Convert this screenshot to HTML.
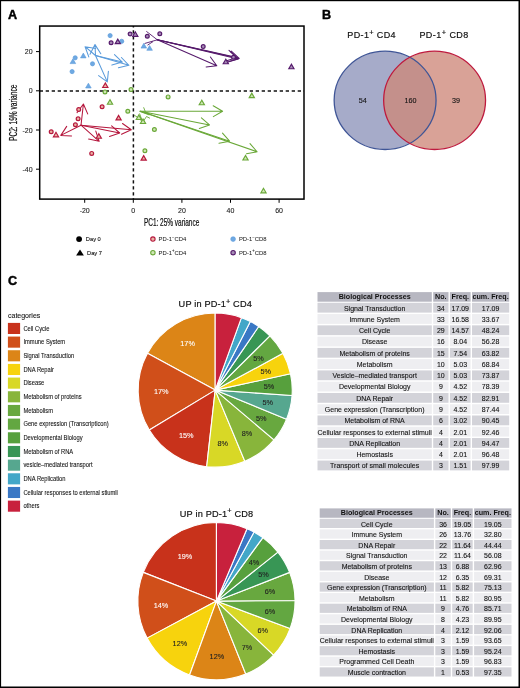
<!DOCTYPE html>
<html><head><meta charset="utf-8"><title>Figure</title>
<style>html,body{margin:0;padding:0;background:#fff;}svg{display:block;will-change:transform;}text{font-family:"Liberation Sans", sans-serif;}</style>
</head><body>
<svg width="520" height="688" viewBox="0 0 520 688" font-family='"Liberation Sans", sans-serif'>
<rect width="520" height="688" fill="#fff"/>
<g>
<line x1="39.7" y1="90.95" x2="304.0" y2="90.95" stroke="#111" stroke-width="1.5" stroke-dasharray="3.3 2.7"/>
<line x1="133.4" y1="26.05" x2="133.4" y2="199.1" stroke="#111" stroke-width="1.5" stroke-dasharray="3.3 2.7" stroke-dashoffset="1.75"/>
<path d="M95.5,55.5L85.1,46.7M95.7,48.6L85.1,46.7L88.8,56.9" fill="none" stroke="#5a9bdb" stroke-width="1.05" stroke-linecap="round" stroke-linejoin="round"/>
<path d="M95.5,55.5L95.0,44.6M100.8,53.7L95.0,44.6L90.0,54.2" fill="none" stroke="#5a9bdb" stroke-width="1.05" stroke-linecap="round" stroke-linejoin="round"/>
<path d="M95.5,55.5L107.3,81.9M98.6,75.6L107.3,81.9L108.4,71.2" fill="none" stroke="#5a9bdb" stroke-width="1.05" stroke-linecap="round" stroke-linejoin="round"/>
<path d="M95.5,55.5L122.3,62.1M111.9,65.1L122.3,62.1L114.5,54.6" fill="none" stroke="#5a9bdb" stroke-width="1.05" stroke-linecap="round" stroke-linejoin="round"/>
<path d="M95.5,55.5L128.9,65.3M118.4,67.8L128.9,65.3L121.4,57.5" fill="none" stroke="#5a9bdb" stroke-width="1.05" stroke-linecap="round" stroke-linejoin="round"/>
<path d="M81.0,125.2L83.4,104.0M87.7,113.9L83.4,104.0L77.0,112.7" fill="none" stroke="#b5173d" stroke-width="1.05" stroke-linecap="round" stroke-linejoin="round"/>
<path d="M81.0,125.2L60.8,135.4M66.7,126.4L60.8,135.4L71.6,136.0" fill="none" stroke="#b5173d" stroke-width="1.05" stroke-linecap="round" stroke-linejoin="round"/>
<path d="M81.0,125.2L99.2,141.3M88.6,139.1L99.2,141.3L95.8,131.1" fill="none" stroke="#b5173d" stroke-width="1.05" stroke-linecap="round" stroke-linejoin="round"/>
<path d="M81.0,125.2L119.7,133.0M109.5,136.4L119.7,133.0L111.6,125.9" fill="none" stroke="#b5173d" stroke-width="1.05" stroke-linecap="round" stroke-linejoin="round"/>
<path d="M81.0,125.2L131.3,129.7M121.5,134.2L131.3,129.7L122.5,123.5" fill="none" stroke="#b5173d" stroke-width="1.05" stroke-linecap="round" stroke-linejoin="round"/>
<path d="M146.3,31.3L157.3,39.8M144.6,43.5L157.3,39.8M147.5,45.2L153,41.6" stroke="#55196b" stroke-width="0.9" fill="none"/>
<path d="M157.3,39.8L216.8,65.7M206.1,66.9L216.8,65.7L210.4,57.0" fill="none" stroke="#55196b" stroke-width="1.05" stroke-linecap="round" stroke-linejoin="round"/>
<path d="M157.3,39.8L239.2,58.4M228.9,61.6L239.2,58.4L231.3,51.1" fill="none" stroke="#55196b" stroke-width="1.05" stroke-linecap="round" stroke-linejoin="round"/>
<path d="M157.3,39.8L237.0,57.6M226.7,60.8L237.0,57.6L229.0,50.3" fill="none" stroke="#55196b" stroke-width="1.05" stroke-linecap="round" stroke-linejoin="round"/>
<path d="M157.3,39.8L238.2,58.9M227.9,62.0L238.2,58.9L230.3,51.5" fill="none" stroke="#55196b" stroke-width="1.05" stroke-linecap="round" stroke-linejoin="round"/>
<path d="M140.5,111.3L222.6,111.2M213.3,116.6L222.6,111.2L213.2,105.8" fill="none" stroke="#6aa838" stroke-width="1.05" stroke-linecap="round" stroke-linejoin="round"/>
<path d="M140.5,111.3L209.5,124.9M199.3,128.4L209.5,124.9L201.4,117.8" fill="none" stroke="#6aa838" stroke-width="1.05" stroke-linecap="round" stroke-linejoin="round"/>
<path d="M140.5,111.3L229.6,141.2M219.0,143.3L229.6,141.2L222.5,133.1" fill="none" stroke="#6aa838" stroke-width="1.05" stroke-linecap="round" stroke-linejoin="round"/>
<path d="M140.5,111.3L257.1,151.8M246.5,153.8L257.1,151.8L250.0,143.6" fill="none" stroke="#6aa838" stroke-width="1.05" stroke-linecap="round" stroke-linejoin="round"/>
<path d="M134,115L138.6,118L142.8,122.2L146.5,116.5L150,118.3M139.5,113.5L142.8,122.2M143.6,107.3L146,113.5M139.2,111.2L149.4,115M145.5,112.7L150,114" stroke="#6aa838" stroke-width="0.9" fill="none" stroke-linejoin="round"/>
<circle cx="110.1" cy="35.6" r="2.1" fill="#6fa9e2" stroke="#5a9bdb" stroke-width="0.7"/>
<circle cx="121.7" cy="41.3" r="2.1" fill="#6fa9e2" stroke="#5a9bdb" stroke-width="0.7"/>
<circle cx="75.2" cy="57.8" r="2.1" fill="#6fa9e2" stroke="#5a9bdb" stroke-width="0.7"/>
<circle cx="92.5" cy="63.8" r="2.1" fill="#6fa9e2" stroke="#5a9bdb" stroke-width="0.7"/>
<circle cx="72.1" cy="71.6" r="2.1" fill="#6fa9e2" stroke="#5a9bdb" stroke-width="0.7"/>
<polygon points="72.9,58.8 70.1,63.6 75.7,63.6" fill="#6fa9e2" stroke="#5a9bdb" stroke-width="0.6" stroke-linejoin="miter"/>
<polygon points="83.3,53.1 80.5,57.9 86.1,57.9" fill="#6fa9e2" stroke="#5a9bdb" stroke-width="0.6" stroke-linejoin="miter"/>
<polygon points="88.4,83.2 85.6,88.0 91.2,88.0" fill="#6fa9e2" stroke="#5a9bdb" stroke-width="0.6" stroke-linejoin="miter"/>
<polygon points="143.8,43.3 141.0,48.1 146.6,48.1" fill="#6fa9e2" stroke="#5a9bdb" stroke-width="0.6" stroke-linejoin="miter"/>
<polygon points="149.6,45.5 146.8,50.3 152.4,50.3" fill="#6fa9e2" stroke="#5a9bdb" stroke-width="0.6" stroke-linejoin="miter"/>
<circle cx="78.7" cy="109.5" r="1.9" fill="#e9b3a3" stroke="#b5173d" stroke-width="1.2"/>
<circle cx="78.1" cy="118.8" r="1.9" fill="#e9b3a3" stroke="#b5173d" stroke-width="1.2"/>
<circle cx="75.4" cy="124.8" r="1.9" fill="#e9b3a3" stroke="#b5173d" stroke-width="1.2"/>
<circle cx="51.2" cy="131.7" r="1.9" fill="#e9b3a3" stroke="#b5173d" stroke-width="1.2"/>
<circle cx="102.1" cy="106.7" r="1.9" fill="#e9b3a3" stroke="#b5173d" stroke-width="1.2"/>
<circle cx="91.7" cy="153.4" r="1.9" fill="#e9b3a3" stroke="#b5173d" stroke-width="1.2"/>
<polygon points="56.0,132.3 53.4,136.8 58.6,136.8" fill="#e9b3a3" stroke="#b5173d" stroke-width="1.15" stroke-linejoin="miter"/>
<polygon points="98.8,133.7 96.2,138.2 101.4,138.2" fill="#e9b3a3" stroke="#b5173d" stroke-width="1.15" stroke-linejoin="miter"/>
<polygon points="118.6,115.4 116.0,119.9 121.2,119.9" fill="#e9b3a3" stroke="#b5173d" stroke-width="1.15" stroke-linejoin="miter"/>
<polygon points="105.3,83.0 102.7,87.5 107.9,87.5" fill="#e9b3a3" stroke="#b5173d" stroke-width="1.15" stroke-linejoin="miter"/>
<polygon points="143.7,155.6 141.1,160.1 146.3,160.1" fill="#e9b3a3" stroke="#b5173d" stroke-width="1.15" stroke-linejoin="miter"/>
<circle cx="105.0" cy="91.9" r="1.9" fill="#cfe6b4" stroke="#6aa838" stroke-width="1.2"/>
<circle cx="131.0" cy="89.6" r="1.9" fill="#cfe6b4" stroke="#6aa838" stroke-width="1.2"/>
<circle cx="127.8" cy="111.2" r="1.9" fill="#cfe6b4" stroke="#6aa838" stroke-width="1.2"/>
<circle cx="154.4" cy="129.5" r="1.9" fill="#cfe6b4" stroke="#6aa838" stroke-width="1.2"/>
<circle cx="144.9" cy="150.7" r="1.9" fill="#cfe6b4" stroke="#6aa838" stroke-width="1.2"/>
<circle cx="168.1" cy="96.9" r="1.9" fill="#cfe6b4" stroke="#6aa838" stroke-width="1.2"/>
<polygon points="110.0,99.7 107.4,104.2 112.6,104.2" fill="#cfe6b4" stroke="#6aa838" stroke-width="1.15" stroke-linejoin="miter"/>
<polygon points="201.8,100.2 199.2,104.7 204.4,104.7" fill="#cfe6b4" stroke="#6aa838" stroke-width="1.15" stroke-linejoin="miter"/>
<polygon points="251.8,93.1 249.2,97.6 254.4,97.6" fill="#cfe6b4" stroke="#6aa838" stroke-width="1.15" stroke-linejoin="miter"/>
<polygon points="245.5,155.5 242.9,160.0 248.1,160.0" fill="#cfe6b4" stroke="#6aa838" stroke-width="1.15" stroke-linejoin="miter"/>
<polygon points="263.5,188.3 260.9,192.8 266.1,192.8" fill="#cfe6b4" stroke="#6aa838" stroke-width="1.15" stroke-linejoin="miter"/>
<polygon points="138.8,115.0 136.2,119.5 141.4,119.5" fill="#cfe6b4" stroke="#6aa838" stroke-width="1.15" stroke-linejoin="miter"/>
<polygon points="143.0,119.0 140.4,123.5 145.6,123.5" fill="#cfe6b4" stroke="#6aa838" stroke-width="1.15" stroke-linejoin="miter"/>
<circle cx="111.1" cy="42.7" r="1.9" fill="#a58db5" stroke="#55196b" stroke-width="1.2"/>
<circle cx="130.1" cy="34.0" r="1.9" fill="#a58db5" stroke="#55196b" stroke-width="1.2"/>
<circle cx="147.3" cy="36.3" r="1.9" fill="#a58db5" stroke="#55196b" stroke-width="1.2"/>
<circle cx="159.8" cy="33.8" r="1.9" fill="#a58db5" stroke="#55196b" stroke-width="1.2"/>
<circle cx="203.2" cy="46.6" r="1.9" fill="#a58db5" stroke="#55196b" stroke-width="1.2"/>
<circle cx="233.5" cy="57.3" r="1.9" fill="#a58db5" stroke="#55196b" stroke-width="1.2"/>
<polygon points="117.8,39.1 115.2,43.6 120.4,43.6" fill="#a58db5" stroke="#55196b" stroke-width="1.15" stroke-linejoin="miter"/>
<polygon points="135.3,31.8 132.7,36.3 137.9,36.3" fill="#a58db5" stroke="#55196b" stroke-width="1.15" stroke-linejoin="miter"/>
<polygon points="225.8,59.2 223.2,63.7 228.4,63.7" fill="#a58db5" stroke="#55196b" stroke-width="1.15" stroke-linejoin="miter"/>
<polygon points="291.4,64.2 288.8,68.7 294.0,68.7" fill="#a58db5" stroke="#55196b" stroke-width="1.15" stroke-linejoin="miter"/>
</g>
<rect x="39.7" y="26.05" width="264.30" height="173.05" fill="none" stroke="#000" stroke-width="1.5"/>
<line x1="84.7" y1="199.1" x2="84.7" y2="202.8" stroke="#000" stroke-width="1"/>
<text x="84.7" y="213" text-anchor="middle" font-size="7" fill="#222" stroke="#222" stroke-width="0.1">-20</text>
<line x1="133.3" y1="199.1" x2="133.3" y2="202.8" stroke="#000" stroke-width="1"/>
<text x="133.3" y="213" text-anchor="middle" font-size="7" fill="#222" stroke="#222" stroke-width="0.1">0</text>
<line x1="181.9" y1="199.1" x2="181.9" y2="202.8" stroke="#000" stroke-width="1"/>
<text x="181.9" y="213" text-anchor="middle" font-size="7" fill="#222" stroke="#222" stroke-width="0.1">20</text>
<line x1="230.5" y1="199.1" x2="230.5" y2="202.8" stroke="#000" stroke-width="1"/>
<text x="230.5" y="213" text-anchor="middle" font-size="7" fill="#222" stroke="#222" stroke-width="0.1">40</text>
<line x1="279.1" y1="199.1" x2="279.1" y2="202.8" stroke="#000" stroke-width="1"/>
<text x="279.1" y="213" text-anchor="middle" font-size="7" fill="#222" stroke="#222" stroke-width="0.1">60</text>
<line x1="36" y1="51.6" x2="39.7" y2="51.6" stroke="#000" stroke-width="1"/>
<text x="32.6" y="54.1" text-anchor="end" font-size="7" fill="#222" stroke="#222" stroke-width="0.1">20</text>
<line x1="36" y1="90.8" x2="39.7" y2="90.8" stroke="#000" stroke-width="1"/>
<text x="32.6" y="93.3" text-anchor="end" font-size="7" fill="#222" stroke="#222" stroke-width="0.1">0</text>
<line x1="36" y1="130.0" x2="39.7" y2="130.0" stroke="#000" stroke-width="1"/>
<text x="32.6" y="132.5" text-anchor="end" font-size="7" fill="#222" stroke="#222" stroke-width="0.1">-20</text>
<line x1="36" y1="169.2" x2="39.7" y2="169.2" stroke="#000" stroke-width="1"/>
<text x="32.6" y="171.7" text-anchor="end" font-size="7" fill="#222" stroke="#222" stroke-width="0.1">-40</text>
<text x="143.9" y="226.1" font-size="10.1" fill="#111" stroke="#111" stroke-width="0.22" textLength="55.4" lengthAdjust="spacingAndGlyphs">PC1: 25% variance</text>
<text transform="translate(16.6,141.0) rotate(-90)" x="0" y="0" font-size="10.1" fill="#111" stroke="#111" stroke-width="0.22" textLength="56.4" lengthAdjust="spacingAndGlyphs">PC2: 19% variance</text>
<circle cx="79.1" cy="239.1" r="2.9" fill="#000"/>
<polygon points="80,249.6 76.1,255.5 83.9,255.5" fill="#000"/>
<text transform="translate(85.8,240.9) scale(0.93,1)" font-size="6.2" fill="#111" stroke="#111" stroke-width="0.1">Day 0</text>
<text transform="translate(87,254.5) scale(0.93,1)" font-size="6.2" fill="#111" stroke="#111" stroke-width="0.1">Day 7</text>
<circle cx="152.9" cy="239.1" r="2.2" fill="#e9b3a3" stroke="#b5173d" stroke-width="1.1"/>
<circle cx="152.9" cy="252.7" r="2.2" fill="#cfe6b4" stroke="#6aa838" stroke-width="1.1"/>
<circle cx="233.1" cy="239.1" r="2.4" fill="#6fa9e2" stroke="#5a9bdb" stroke-width="0.6"/>
<circle cx="233.1" cy="252.7" r="2.2" fill="#a58db5" stroke="#55196b" stroke-width="1.1"/>
<text transform="translate(158.6,241.1) scale(0.95,1)" font-size="6.2" fill="#1a1a1a" stroke="#1a1a1a" stroke-width="0.04">PD-1<tspan dy="-2.2" font-size="4.5">−</tspan><tspan dy="2.2">CD4</tspan></text>
<text transform="translate(158.6,254.6) scale(0.95,1)" font-size="6.2" fill="#1a1a1a" stroke="#1a1a1a" stroke-width="0.04">PD-1<tspan dy="-2.2" font-size="4.5">+</tspan><tspan dy="2.2">CD4</tspan></text>
<text transform="translate(238.9,241.1) scale(0.95,1)" font-size="6.2" fill="#1a1a1a" stroke="#1a1a1a" stroke-width="0.04">PD-1<tspan dy="-2.2" font-size="4.5">−</tspan><tspan dy="2.2">CD8</tspan></text>
<text transform="translate(238.9,254.6) scale(0.95,1)" font-size="6.2" fill="#1a1a1a" stroke="#1a1a1a" stroke-width="0.04">PD-1<tspan dy="-2.2" font-size="4.5">+</tspan><tspan dy="2.2">CD8</tspan></text>
<text x="8.1" y="19" font-size="12.6" font-weight="bold" fill="#000" stroke="#000" stroke-width="0.45">A</text>
<text x="321.9" y="19.2" font-size="12.6" font-weight="bold" fill="#000" stroke="#000" stroke-width="0.45">B</text>
<text x="7.9" y="285.4" font-size="12.6" font-weight="bold" fill="#000" stroke="#000" stroke-width="0.45">C</text>
<ellipse cx="385.1" cy="100.35" rx="50.95" ry="49.15" fill="#a6abc9"/>
<ellipse cx="434.6" cy="100.35" rx="50.95" ry="49.15" fill="#d9a297"/>
<clipPath id="cl"><ellipse cx="385.1" cy="100.35" rx="50.95" ry="49.15"/></clipPath>
<ellipse cx="434.6" cy="100.35" rx="50.95" ry="49.15" fill="#c4908b" clip-path="url(#cl)"/>
<ellipse cx="385.1" cy="100.35" rx="50.95" ry="49.15" fill="none" stroke="#3f5596" stroke-width="1.3"/>
<ellipse cx="434.6" cy="100.35" rx="50.95" ry="49.15" fill="none" stroke="#be1a3e" stroke-width="1.3"/>
<text x="347.3" y="37.9" font-size="9.0" fill="#111" stroke="#111" stroke-width="0.18" textLength="48.3" lengthAdjust="spacing">PD-1<tspan dy="-3.2" font-size="7.4">+</tspan><tspan dy="3.2"> CD4</tspan></text>
<text x="419.4" y="37.9" font-size="9.0" fill="#111" stroke="#111" stroke-width="0.18" textLength="48.9" lengthAdjust="spacing">PD-1<tspan dy="-3.2" font-size="7.4">+</tspan><tspan dy="3.2"> CD8</tspan></text>
<text x="362.8" y="103" font-size="7.2" text-anchor="middle" fill="#111" stroke="#111" stroke-width="0.1">54</text>
<text x="410.5" y="103" font-size="7.2" text-anchor="middle" fill="#111" stroke="#111" stroke-width="0.1">160</text>
<text x="455.9" y="103" font-size="7.2" text-anchor="middle" fill="#111" stroke="#111" stroke-width="0.1">39</text>
<text x="8" y="317.6" font-size="7" fill="#111" stroke="#111" stroke-width="0.08">categories</text>
<rect x="7.9" y="322.90" width="12.2" height="11.1" fill="#c8321b"/>
<text transform="translate(23.4,330.75) scale(0.905,1)" font-size="6.4" fill="#111" stroke="#111" stroke-width="0.08">Cell Cycle</text>
<rect x="7.9" y="336.57" width="12.2" height="11.1" fill="#d04f1a"/>
<text transform="translate(23.4,344.42) scale(0.905,1)" font-size="6.4" fill="#111" stroke="#111" stroke-width="0.08">Immune System</text>
<rect x="7.9" y="350.24" width="12.2" height="11.1" fill="#dc8517"/>
<text transform="translate(23.4,358.09) scale(0.905,1)" font-size="6.4" fill="#111" stroke="#111" stroke-width="0.08">Signal Transduction</text>
<rect x="7.9" y="363.91" width="12.2" height="11.1" fill="#f7d30d"/>
<text transform="translate(23.4,371.76) scale(0.905,1)" font-size="6.4" fill="#111" stroke="#111" stroke-width="0.08">DNA Repair</text>
<rect x="7.9" y="377.58" width="12.2" height="11.1" fill="#d8d826"/>
<text transform="translate(23.4,385.43) scale(0.905,1)" font-size="6.4" fill="#111" stroke="#111" stroke-width="0.08">Disease</text>
<rect x="7.9" y="391.25" width="12.2" height="11.1" fill="#88b53b"/>
<text transform="translate(23.4,399.10) scale(0.905,1)" font-size="6.4" fill="#111" stroke="#111" stroke-width="0.08">Metabolism of proteins</text>
<rect x="7.9" y="404.92" width="12.2" height="11.1" fill="#68a83f"/>
<text transform="translate(23.4,412.77) scale(0.905,1)" font-size="6.4" fill="#111" stroke="#111" stroke-width="0.08">Metabolism</text>
<rect x="7.9" y="418.59" width="12.2" height="11.1" fill="#63a741"/>
<text transform="translate(23.4,426.44) scale(0.905,1)" font-size="6.4" fill="#111" stroke="#111" stroke-width="0.08">Gene expression (Transcripticon)</text>
<rect x="7.9" y="432.26" width="12.2" height="11.1" fill="#57a03d"/>
<text transform="translate(23.4,440.11) scale(0.905,1)" font-size="6.4" fill="#111" stroke="#111" stroke-width="0.08">Developmental Biology</text>
<rect x="7.9" y="445.93" width="12.2" height="11.1" fill="#389655"/>
<text transform="translate(23.4,453.78) scale(0.905,1)" font-size="6.4" fill="#111" stroke="#111" stroke-width="0.08">Metabolism of RNA</text>
<rect x="7.9" y="459.60" width="12.2" height="11.1" fill="#56a78f"/>
<text transform="translate(23.4,467.45) scale(0.905,1)" font-size="6.4" fill="#111" stroke="#111" stroke-width="0.08">vesicle–mediated transport</text>
<rect x="7.9" y="473.27" width="12.2" height="11.1" fill="#43a7c8"/>
<text transform="translate(23.4,481.12) scale(0.905,1)" font-size="6.4" fill="#111" stroke="#111" stroke-width="0.08">DNA Replication</text>
<rect x="7.9" y="486.94" width="12.2" height="11.1" fill="#3a78c5"/>
<text transform="translate(23.4,494.79) scale(0.905,1)" font-size="6.4" fill="#111" stroke="#111" stroke-width="0.08">Cellular responses to external stiumli</text>
<rect x="7.9" y="500.61" width="12.2" height="11.1" fill="#c8213d"/>
<text transform="translate(23.4,508.46) scale(0.905,1)" font-size="6.4" fill="#111" stroke="#111" stroke-width="0.08">others</text>
<path d="M215.20,390.10L215.20,313.05A77.05,77.05 0 0 0 147.48,353.34Z" fill="#dc8517" stroke="#fff" stroke-width="1.1" stroke-linejoin="round"/>
<path d="M215.20,390.10L147.48,353.34A77.05,77.05 0 0 0 149.30,430.02Z" fill="#d04f1a" stroke="#fff" stroke-width="1.1" stroke-linejoin="round"/>
<path d="M215.20,390.10L149.30,430.02A77.05,77.05 0 0 0 206.70,466.68Z" fill="#c8321b" stroke="#fff" stroke-width="1.1" stroke-linejoin="round"/>
<path d="M215.20,390.10L206.70,466.68A77.05,77.05 0 0 0 244.83,461.23Z" fill="#d8d826" stroke="#fff" stroke-width="1.1" stroke-linejoin="round"/>
<path d="M215.20,390.10L244.83,461.23A77.05,77.05 0 0 0 274.01,439.89Z" fill="#88b53b" stroke="#fff" stroke-width="1.1" stroke-linejoin="round"/>
<path d="M215.20,390.10L274.01,439.89A77.05,77.05 0 0 0 286.56,419.16Z" fill="#68a83f" stroke="#fff" stroke-width="1.1" stroke-linejoin="round"/>
<path d="M215.20,390.10L286.56,419.16A77.05,77.05 0 0 0 292.06,395.57Z" fill="#56a78f" stroke="#fff" stroke-width="1.1" stroke-linejoin="round"/>
<path d="M215.20,390.10L292.06,395.57A77.05,77.05 0 0 0 290.51,373.80Z" fill="#57a03d" stroke="#fff" stroke-width="1.1" stroke-linejoin="round"/>
<path d="M215.20,390.10L290.51,373.80A77.05,77.05 0 0 0 282.92,353.34Z" fill="#f7d30d" stroke="#fff" stroke-width="1.1" stroke-linejoin="round"/>
<path d="M215.20,390.10L282.92,353.34A77.05,77.05 0 0 0 269.90,335.83Z" fill="#63a741" stroke="#fff" stroke-width="1.1" stroke-linejoin="round"/>
<path d="M215.20,390.10L269.90,335.83A77.05,77.05 0 0 0 258.70,326.50Z" fill="#389655" stroke="#fff" stroke-width="1.1" stroke-linejoin="round"/>
<path d="M215.20,390.10L258.70,326.50A77.05,77.05 0 0 0 250.34,321.53Z" fill="#3a78c5" stroke="#fff" stroke-width="1.1" stroke-linejoin="round"/>
<path d="M215.20,390.10L250.34,321.53A77.05,77.05 0 0 0 241.43,317.65Z" fill="#43a7c8" stroke="#fff" stroke-width="1.1" stroke-linejoin="round"/>
<path d="M215.20,390.10L241.43,317.65A77.05,77.05 0 0 0 215.20,313.05Z" fill="#c8213d" stroke="#fff" stroke-width="1.1" stroke-linejoin="round"/>
<text x="187.6" y="346.3" font-size="7.3" text-anchor="middle" fill="#fff" stroke="#fff" stroke-width="0.1">17%</text>
<text x="161.3" y="394.0" font-size="7.3" text-anchor="middle" fill="#fff" stroke="#fff" stroke-width="0.1">17%</text>
<text x="186.2" y="438.2" font-size="7.3" text-anchor="middle" fill="#fff" stroke="#fff" stroke-width="0.1">15%</text>
<text x="222.8" y="446.1" font-size="7.3" text-anchor="middle" fill="#222" stroke="#222" stroke-width="0.1">8%</text>
<text x="247.0" y="436.2" font-size="7.3" text-anchor="middle" fill="#222" stroke="#222" stroke-width="0.1">8%</text>
<text x="261.3" y="420.6" font-size="7.3" text-anchor="middle" fill="#222" stroke="#222" stroke-width="0.1">5%</text>
<text x="267.7" y="404.9" font-size="7.3" text-anchor="middle" fill="#222" stroke="#222" stroke-width="0.1">5%</text>
<text x="269.0" y="388.9" font-size="7.3" text-anchor="middle" fill="#222" stroke="#222" stroke-width="0.1">5%</text>
<text x="265.8" y="373.9" font-size="7.3" text-anchor="middle" fill="#222" stroke="#222" stroke-width="0.1">5%</text>
<text x="258.5" y="360.5" font-size="7.3" text-anchor="middle" fill="#222" stroke="#222" stroke-width="0.1">5%</text>
<path d="M216.45,601.10L216.45,522.50A78.6,78.6 0 0 0 143.28,572.38Z" fill="#c8321b" stroke="#fff" stroke-width="1.1" stroke-linejoin="round"/>
<path d="M216.45,601.10L143.28,572.38A78.6,78.6 0 0 0 147.11,638.12Z" fill="#d04f1a" stroke="#fff" stroke-width="1.1" stroke-linejoin="round"/>
<path d="M216.45,601.10L147.11,638.12A78.6,78.6 0 0 0 189.57,674.96Z" fill="#f7d30d" stroke="#fff" stroke-width="1.1" stroke-linejoin="round"/>
<path d="M216.45,601.10L189.57,674.96A78.6,78.6 0 0 0 245.77,674.03Z" fill="#dc8517" stroke="#fff" stroke-width="1.1" stroke-linejoin="round"/>
<path d="M216.45,601.10L245.77,674.03A78.6,78.6 0 0 0 273.62,655.04Z" fill="#88b53b" stroke="#fff" stroke-width="1.1" stroke-linejoin="round"/>
<path d="M216.45,601.10L273.62,655.04A78.6,78.6 0 0 0 290.08,628.60Z" fill="#d8d826" stroke="#fff" stroke-width="1.1" stroke-linejoin="round"/>
<path d="M216.45,601.10L290.08,628.60A78.6,78.6 0 0 0 295.05,600.45Z" fill="#63a741" stroke="#fff" stroke-width="1.1" stroke-linejoin="round"/>
<path d="M216.45,601.10L295.05,600.45A78.6,78.6 0 0 0 289.62,572.38Z" fill="#68a83f" stroke="#fff" stroke-width="1.1" stroke-linejoin="round"/>
<path d="M216.45,601.10L289.62,572.38A78.6,78.6 0 0 0 277.90,552.09Z" fill="#389655" stroke="#fff" stroke-width="1.1" stroke-linejoin="round"/>
<path d="M216.45,601.10L277.90,552.09A78.6,78.6 0 0 0 262.86,537.67Z" fill="#57a03d" stroke="#fff" stroke-width="1.1" stroke-linejoin="round"/>
<path d="M216.45,601.10L262.86,537.67A78.6,78.6 0 0 0 254.04,532.07Z" fill="#43a7c8" stroke="#fff" stroke-width="1.1" stroke-linejoin="round"/>
<path d="M216.45,601.10L254.04,532.07A78.6,78.6 0 0 0 246.98,528.67Z" fill="#3a78c5" stroke="#fff" stroke-width="1.1" stroke-linejoin="round"/>
<path d="M216.45,601.10L246.98,528.67A78.6,78.6 0 0 0 216.45,522.50Z" fill="#c8213d" stroke="#fff" stroke-width="1.1" stroke-linejoin="round"/>
<text x="185.0" y="558.8" font-size="7.3" text-anchor="middle" fill="#fff" stroke="#fff" stroke-width="0.1">19%</text>
<text x="161.0" y="607.5" font-size="7.3" text-anchor="middle" fill="#fff" stroke="#fff" stroke-width="0.1">14%</text>
<text x="179.9" y="645.9" font-size="7.3" text-anchor="middle" fill="#222" stroke="#222" stroke-width="0.1">12%</text>
<text x="216.9" y="659.3" font-size="7.3" text-anchor="middle" fill="#222" stroke="#222" stroke-width="0.1">12%</text>
<text x="246.9" y="649.8" font-size="7.3" text-anchor="middle" fill="#222" stroke="#222" stroke-width="0.1">7%</text>
<text x="262.7" y="633.4" font-size="7.3" text-anchor="middle" fill="#222" stroke="#222" stroke-width="0.1">6%</text>
<text x="270.1" y="613.9" font-size="7.3" text-anchor="middle" fill="#222" stroke="#222" stroke-width="0.1">6%</text>
<text x="270.0" y="593.8" font-size="7.3" text-anchor="middle" fill="#222" stroke="#222" stroke-width="0.1">6%</text>
<text x="263.6" y="576.8" font-size="7.3" text-anchor="middle" fill="#222" stroke="#222" stroke-width="0.1">5%</text>
<text x="254.0" y="564.6" font-size="7.3" text-anchor="middle" fill="#222" stroke="#222" stroke-width="0.1">4%</text>
<text x="178.6" y="307.1" font-size="9.2" fill="#111" stroke="#111" stroke-width="0.18" textLength="73.2" lengthAdjust="spacing">UP in PD-1<tspan dy="-3.4" font-size="7.4">+</tspan><tspan dy="3.4"> CD4</tspan></text>
<text x="179.8" y="516.8" font-size="9.2" fill="#111" stroke="#111" stroke-width="0.18" textLength="73.4" lengthAdjust="spacing">UP in PD-1<tspan dy="-3.4" font-size="7.4">+</tspan><tspan dy="3.4"> CD8</tspan></text>
<rect x="317.50" y="292.10" width="114.30" height="9.60" fill="#b7b7c1"/>
<text transform="translate(374.65,298.95) scale(0.97,1)" text-anchor="middle" fill="#111" font-weight="bold" font-size="7.4">Biological Processes</text>
<rect x="433.20" y="292.10" width="15.30" height="9.60" fill="#b7b7c1"/>
<text transform="translate(440.85,298.95) scale(0.97,1)" text-anchor="middle" fill="#111" font-weight="bold" font-size="7.4">No.</text>
<rect x="449.90" y="292.10" width="20.70" height="9.60" fill="#b7b7c1"/>
<text transform="translate(460.25,298.95) scale(0.97,1)" text-anchor="middle" fill="#111" font-weight="bold" font-size="7.4">Freq.</text>
<rect x="472.00" y="292.10" width="37.20" height="9.60" fill="#b7b7c1"/>
<text transform="translate(490.60,298.95) scale(0.97,1)" text-anchor="middle" fill="#111" font-weight="bold" font-size="7.4">cum. Freq.</text>
<rect x="317.50" y="302.80" width="114.30" height="9.80" fill="#d3d3d9"/>
<text transform="translate(374.65,310.60) scale(0.94,1)" text-anchor="middle" fill="#111" stroke="#111" stroke-width="0.1" font-size="7.45">Signal Transduction</text>
<rect x="433.20" y="302.80" width="15.30" height="9.80" fill="#d3d3d9"/>
<text transform="translate(440.85,310.60) scale(0.94,1)" text-anchor="middle" fill="#111" stroke="#111" stroke-width="0.1" font-size="7.45">34</text>
<rect x="449.90" y="302.80" width="20.70" height="9.80" fill="#d3d3d9"/>
<text transform="translate(460.25,310.60) scale(0.94,1)" text-anchor="middle" fill="#111" stroke="#111" stroke-width="0.1" font-size="7.45">17.09</text>
<rect x="472.00" y="302.80" width="37.20" height="9.80" fill="#d3d3d9"/>
<text transform="translate(490.60,310.60) scale(0.94,1)" text-anchor="middle" fill="#111" stroke="#111" stroke-width="0.1" font-size="7.45">17.09</text>
<rect x="317.50" y="314.07" width="114.30" height="9.80" fill="#eeeef1"/>
<text transform="translate(374.65,321.87) scale(0.94,1)" text-anchor="middle" fill="#111" stroke="#111" stroke-width="0.1" font-size="7.45">Immune System</text>
<rect x="433.20" y="314.07" width="15.30" height="9.80" fill="#eeeef1"/>
<text transform="translate(440.85,321.87) scale(0.94,1)" text-anchor="middle" fill="#111" stroke="#111" stroke-width="0.1" font-size="7.45">33</text>
<rect x="449.90" y="314.07" width="20.70" height="9.80" fill="#eeeef1"/>
<text transform="translate(460.25,321.87) scale(0.94,1)" text-anchor="middle" fill="#111" stroke="#111" stroke-width="0.1" font-size="7.45">16.58</text>
<rect x="472.00" y="314.07" width="37.20" height="9.80" fill="#eeeef1"/>
<text transform="translate(490.60,321.87) scale(0.94,1)" text-anchor="middle" fill="#111" stroke="#111" stroke-width="0.1" font-size="7.45">33.67</text>
<rect x="317.50" y="325.34" width="114.30" height="9.80" fill="#d3d3d9"/>
<text transform="translate(374.65,333.14) scale(0.94,1)" text-anchor="middle" fill="#111" stroke="#111" stroke-width="0.1" font-size="7.45">Cell Cycle</text>
<rect x="433.20" y="325.34" width="15.30" height="9.80" fill="#d3d3d9"/>
<text transform="translate(440.85,333.14) scale(0.94,1)" text-anchor="middle" fill="#111" stroke="#111" stroke-width="0.1" font-size="7.45">29</text>
<rect x="449.90" y="325.34" width="20.70" height="9.80" fill="#d3d3d9"/>
<text transform="translate(460.25,333.14) scale(0.94,1)" text-anchor="middle" fill="#111" stroke="#111" stroke-width="0.1" font-size="7.45">14.57</text>
<rect x="472.00" y="325.34" width="37.20" height="9.80" fill="#d3d3d9"/>
<text transform="translate(490.60,333.14) scale(0.94,1)" text-anchor="middle" fill="#111" stroke="#111" stroke-width="0.1" font-size="7.45">48.24</text>
<rect x="317.50" y="336.61" width="114.30" height="9.80" fill="#eeeef1"/>
<text transform="translate(374.65,344.41) scale(0.94,1)" text-anchor="middle" fill="#111" stroke="#111" stroke-width="0.1" font-size="7.45">Disease</text>
<rect x="433.20" y="336.61" width="15.30" height="9.80" fill="#eeeef1"/>
<text transform="translate(440.85,344.41) scale(0.94,1)" text-anchor="middle" fill="#111" stroke="#111" stroke-width="0.1" font-size="7.45">16</text>
<rect x="449.90" y="336.61" width="20.70" height="9.80" fill="#eeeef1"/>
<text transform="translate(460.25,344.41) scale(0.94,1)" text-anchor="middle" fill="#111" stroke="#111" stroke-width="0.1" font-size="7.45">8.04</text>
<rect x="472.00" y="336.61" width="37.20" height="9.80" fill="#eeeef1"/>
<text transform="translate(490.60,344.41) scale(0.94,1)" text-anchor="middle" fill="#111" stroke="#111" stroke-width="0.1" font-size="7.45">56.28</text>
<rect x="317.50" y="347.88" width="114.30" height="9.80" fill="#d3d3d9"/>
<text transform="translate(374.65,355.68) scale(0.94,1)" text-anchor="middle" fill="#111" stroke="#111" stroke-width="0.1" font-size="7.45">Metabolism of proteins</text>
<rect x="433.20" y="347.88" width="15.30" height="9.80" fill="#d3d3d9"/>
<text transform="translate(440.85,355.68) scale(0.94,1)" text-anchor="middle" fill="#111" stroke="#111" stroke-width="0.1" font-size="7.45">15</text>
<rect x="449.90" y="347.88" width="20.70" height="9.80" fill="#d3d3d9"/>
<text transform="translate(460.25,355.68) scale(0.94,1)" text-anchor="middle" fill="#111" stroke="#111" stroke-width="0.1" font-size="7.45">7.54</text>
<rect x="472.00" y="347.88" width="37.20" height="9.80" fill="#d3d3d9"/>
<text transform="translate(490.60,355.68) scale(0.94,1)" text-anchor="middle" fill="#111" stroke="#111" stroke-width="0.1" font-size="7.45">63.82</text>
<rect x="317.50" y="359.15" width="114.30" height="9.80" fill="#eeeef1"/>
<text transform="translate(374.65,366.95) scale(0.94,1)" text-anchor="middle" fill="#111" stroke="#111" stroke-width="0.1" font-size="7.45">Metabolism</text>
<rect x="433.20" y="359.15" width="15.30" height="9.80" fill="#eeeef1"/>
<text transform="translate(440.85,366.95) scale(0.94,1)" text-anchor="middle" fill="#111" stroke="#111" stroke-width="0.1" font-size="7.45">10</text>
<rect x="449.90" y="359.15" width="20.70" height="9.80" fill="#eeeef1"/>
<text transform="translate(460.25,366.95) scale(0.94,1)" text-anchor="middle" fill="#111" stroke="#111" stroke-width="0.1" font-size="7.45">5.03</text>
<rect x="472.00" y="359.15" width="37.20" height="9.80" fill="#eeeef1"/>
<text transform="translate(490.60,366.95) scale(0.94,1)" text-anchor="middle" fill="#111" stroke="#111" stroke-width="0.1" font-size="7.45">68.84</text>
<rect x="317.50" y="370.42" width="114.30" height="9.80" fill="#d3d3d9"/>
<text transform="translate(374.65,378.22) scale(0.94,1)" text-anchor="middle" fill="#111" stroke="#111" stroke-width="0.1" font-size="7.45">Vesicle–mediated transport</text>
<rect x="433.20" y="370.42" width="15.30" height="9.80" fill="#d3d3d9"/>
<text transform="translate(440.85,378.22) scale(0.94,1)" text-anchor="middle" fill="#111" stroke="#111" stroke-width="0.1" font-size="7.45">10</text>
<rect x="449.90" y="370.42" width="20.70" height="9.80" fill="#d3d3d9"/>
<text transform="translate(460.25,378.22) scale(0.94,1)" text-anchor="middle" fill="#111" stroke="#111" stroke-width="0.1" font-size="7.45">5.03</text>
<rect x="472.00" y="370.42" width="37.20" height="9.80" fill="#d3d3d9"/>
<text transform="translate(490.60,378.22) scale(0.94,1)" text-anchor="middle" fill="#111" stroke="#111" stroke-width="0.1" font-size="7.45">73.87</text>
<rect x="317.50" y="381.69" width="114.30" height="9.80" fill="#eeeef1"/>
<text transform="translate(374.65,389.49) scale(0.94,1)" text-anchor="middle" fill="#111" stroke="#111" stroke-width="0.1" font-size="7.45">Developmental Biology</text>
<rect x="433.20" y="381.69" width="15.30" height="9.80" fill="#eeeef1"/>
<text transform="translate(440.85,389.49) scale(0.94,1)" text-anchor="middle" fill="#111" stroke="#111" stroke-width="0.1" font-size="7.45">9</text>
<rect x="449.90" y="381.69" width="20.70" height="9.80" fill="#eeeef1"/>
<text transform="translate(460.25,389.49) scale(0.94,1)" text-anchor="middle" fill="#111" stroke="#111" stroke-width="0.1" font-size="7.45">4.52</text>
<rect x="472.00" y="381.69" width="37.20" height="9.80" fill="#eeeef1"/>
<text transform="translate(490.60,389.49) scale(0.94,1)" text-anchor="middle" fill="#111" stroke="#111" stroke-width="0.1" font-size="7.45">78.39</text>
<rect x="317.50" y="392.96" width="114.30" height="9.80" fill="#d3d3d9"/>
<text transform="translate(374.65,400.76) scale(0.94,1)" text-anchor="middle" fill="#111" stroke="#111" stroke-width="0.1" font-size="7.45">DNA Repair</text>
<rect x="433.20" y="392.96" width="15.30" height="9.80" fill="#d3d3d9"/>
<text transform="translate(440.85,400.76) scale(0.94,1)" text-anchor="middle" fill="#111" stroke="#111" stroke-width="0.1" font-size="7.45">9</text>
<rect x="449.90" y="392.96" width="20.70" height="9.80" fill="#d3d3d9"/>
<text transform="translate(460.25,400.76) scale(0.94,1)" text-anchor="middle" fill="#111" stroke="#111" stroke-width="0.1" font-size="7.45">4.52</text>
<rect x="472.00" y="392.96" width="37.20" height="9.80" fill="#d3d3d9"/>
<text transform="translate(490.60,400.76) scale(0.94,1)" text-anchor="middle" fill="#111" stroke="#111" stroke-width="0.1" font-size="7.45">82.91</text>
<rect x="317.50" y="404.23" width="114.30" height="9.80" fill="#eeeef1"/>
<text transform="translate(374.65,412.03) scale(0.94,1)" text-anchor="middle" fill="#111" stroke="#111" stroke-width="0.1" font-size="7.45">Gene expression (Transcription)</text>
<rect x="433.20" y="404.23" width="15.30" height="9.80" fill="#eeeef1"/>
<text transform="translate(440.85,412.03) scale(0.94,1)" text-anchor="middle" fill="#111" stroke="#111" stroke-width="0.1" font-size="7.45">9</text>
<rect x="449.90" y="404.23" width="20.70" height="9.80" fill="#eeeef1"/>
<text transform="translate(460.25,412.03) scale(0.94,1)" text-anchor="middle" fill="#111" stroke="#111" stroke-width="0.1" font-size="7.45">4.52</text>
<rect x="472.00" y="404.23" width="37.20" height="9.80" fill="#eeeef1"/>
<text transform="translate(490.60,412.03) scale(0.94,1)" text-anchor="middle" fill="#111" stroke="#111" stroke-width="0.1" font-size="7.45">87.44</text>
<rect x="317.50" y="415.50" width="114.30" height="9.80" fill="#d3d3d9"/>
<text transform="translate(374.65,423.30) scale(0.94,1)" text-anchor="middle" fill="#111" stroke="#111" stroke-width="0.1" font-size="7.45">Metabolism of RNA</text>
<rect x="433.20" y="415.50" width="15.30" height="9.80" fill="#d3d3d9"/>
<text transform="translate(440.85,423.30) scale(0.94,1)" text-anchor="middle" fill="#111" stroke="#111" stroke-width="0.1" font-size="7.45">6</text>
<rect x="449.90" y="415.50" width="20.70" height="9.80" fill="#d3d3d9"/>
<text transform="translate(460.25,423.30) scale(0.94,1)" text-anchor="middle" fill="#111" stroke="#111" stroke-width="0.1" font-size="7.45">3.02</text>
<rect x="472.00" y="415.50" width="37.20" height="9.80" fill="#d3d3d9"/>
<text transform="translate(490.60,423.30) scale(0.94,1)" text-anchor="middle" fill="#111" stroke="#111" stroke-width="0.1" font-size="7.45">90.45</text>
<rect x="317.50" y="426.77" width="114.30" height="9.80" fill="#eeeef1"/>
<text transform="translate(374.65,434.57) scale(0.94,1)" text-anchor="middle" fill="#111" stroke="#111" stroke-width="0.1" font-size="7.45">Cellular responses to external stimuli</text>
<rect x="433.20" y="426.77" width="15.30" height="9.80" fill="#eeeef1"/>
<text transform="translate(440.85,434.57) scale(0.94,1)" text-anchor="middle" fill="#111" stroke="#111" stroke-width="0.1" font-size="7.45">4</text>
<rect x="449.90" y="426.77" width="20.70" height="9.80" fill="#eeeef1"/>
<text transform="translate(460.25,434.57) scale(0.94,1)" text-anchor="middle" fill="#111" stroke="#111" stroke-width="0.1" font-size="7.45">2.01</text>
<rect x="472.00" y="426.77" width="37.20" height="9.80" fill="#eeeef1"/>
<text transform="translate(490.60,434.57) scale(0.94,1)" text-anchor="middle" fill="#111" stroke="#111" stroke-width="0.1" font-size="7.45">92.46</text>
<rect x="317.50" y="438.04" width="114.30" height="9.80" fill="#d3d3d9"/>
<text transform="translate(374.65,445.84) scale(0.94,1)" text-anchor="middle" fill="#111" stroke="#111" stroke-width="0.1" font-size="7.45">DNA Replication</text>
<rect x="433.20" y="438.04" width="15.30" height="9.80" fill="#d3d3d9"/>
<text transform="translate(440.85,445.84) scale(0.94,1)" text-anchor="middle" fill="#111" stroke="#111" stroke-width="0.1" font-size="7.45">4</text>
<rect x="449.90" y="438.04" width="20.70" height="9.80" fill="#d3d3d9"/>
<text transform="translate(460.25,445.84) scale(0.94,1)" text-anchor="middle" fill="#111" stroke="#111" stroke-width="0.1" font-size="7.45">2.01</text>
<rect x="472.00" y="438.04" width="37.20" height="9.80" fill="#d3d3d9"/>
<text transform="translate(490.60,445.84) scale(0.94,1)" text-anchor="middle" fill="#111" stroke="#111" stroke-width="0.1" font-size="7.45">94.47</text>
<rect x="317.50" y="449.31" width="114.30" height="9.80" fill="#eeeef1"/>
<text transform="translate(374.65,457.11) scale(0.94,1)" text-anchor="middle" fill="#111" stroke="#111" stroke-width="0.1" font-size="7.45">Hemostasis</text>
<rect x="433.20" y="449.31" width="15.30" height="9.80" fill="#eeeef1"/>
<text transform="translate(440.85,457.11) scale(0.94,1)" text-anchor="middle" fill="#111" stroke="#111" stroke-width="0.1" font-size="7.45">4</text>
<rect x="449.90" y="449.31" width="20.70" height="9.80" fill="#eeeef1"/>
<text transform="translate(460.25,457.11) scale(0.94,1)" text-anchor="middle" fill="#111" stroke="#111" stroke-width="0.1" font-size="7.45">2.01</text>
<rect x="472.00" y="449.31" width="37.20" height="9.80" fill="#eeeef1"/>
<text transform="translate(490.60,457.11) scale(0.94,1)" text-anchor="middle" fill="#111" stroke="#111" stroke-width="0.1" font-size="7.45">96.48</text>
<rect x="317.50" y="460.58" width="114.30" height="9.80" fill="#d3d3d9"/>
<text transform="translate(374.65,468.38) scale(0.94,1)" text-anchor="middle" fill="#111" stroke="#111" stroke-width="0.1" font-size="7.45">Transport of small molecules</text>
<rect x="433.20" y="460.58" width="15.30" height="9.80" fill="#d3d3d9"/>
<text transform="translate(440.85,468.38) scale(0.94,1)" text-anchor="middle" fill="#111" stroke="#111" stroke-width="0.1" font-size="7.45">3</text>
<rect x="449.90" y="460.58" width="20.70" height="9.80" fill="#d3d3d9"/>
<text transform="translate(460.25,468.38) scale(0.94,1)" text-anchor="middle" fill="#111" stroke="#111" stroke-width="0.1" font-size="7.45">1.51</text>
<rect x="472.00" y="460.58" width="37.20" height="9.80" fill="#d3d3d9"/>
<text transform="translate(490.60,468.38) scale(0.94,1)" text-anchor="middle" fill="#111" stroke="#111" stroke-width="0.1" font-size="7.45">97.99</text>
<rect x="319.70" y="508.40" width="114.20" height="9.35" fill="#b7b7c1"/>
<text transform="translate(376.80,514.92) scale(0.97,1)" text-anchor="middle" fill="#111" font-weight="bold" font-size="7.4">Biological Processes</text>
<rect x="435.30" y="508.40" width="15.50" height="9.35" fill="#b7b7c1"/>
<text transform="translate(443.05,514.92) scale(0.97,1)" text-anchor="middle" fill="#111" font-weight="bold" font-size="7.4">No.</text>
<rect x="452.20" y="508.40" width="20.50" height="9.35" fill="#b7b7c1"/>
<text transform="translate(462.45,514.92) scale(0.97,1)" text-anchor="middle" fill="#111" font-weight="bold" font-size="7.4">Freq.</text>
<rect x="474.10" y="508.40" width="37.40" height="9.35" fill="#b7b7c1"/>
<text transform="translate(492.80,514.92) scale(0.97,1)" text-anchor="middle" fill="#111" font-weight="bold" font-size="7.4">cum. Freq.</text>
<rect x="319.70" y="518.80" width="114.20" height="9.20" fill="#d3d3d9"/>
<text transform="translate(376.80,526.50) scale(0.94,1)" text-anchor="middle" fill="#111" stroke="#111" stroke-width="0.1" font-size="7.45">Cell Cycle</text>
<rect x="435.30" y="518.80" width="15.50" height="9.20" fill="#d3d3d9"/>
<text transform="translate(443.05,526.50) scale(0.94,1)" text-anchor="middle" fill="#111" stroke="#111" stroke-width="0.1" font-size="7.45">36</text>
<rect x="452.20" y="518.80" width="20.50" height="9.20" fill="#d3d3d9"/>
<text transform="translate(462.45,526.50) scale(0.94,1)" text-anchor="middle" fill="#111" stroke="#111" stroke-width="0.1" font-size="7.45">19.05</text>
<rect x="474.10" y="518.80" width="37.40" height="9.20" fill="#d3d3d9"/>
<text transform="translate(492.80,526.50) scale(0.94,1)" text-anchor="middle" fill="#111" stroke="#111" stroke-width="0.1" font-size="7.45">19.05</text>
<rect x="319.70" y="529.41" width="114.20" height="9.20" fill="#eeeef1"/>
<text transform="translate(376.80,537.11) scale(0.94,1)" text-anchor="middle" fill="#111" stroke="#111" stroke-width="0.1" font-size="7.45">Immune System</text>
<rect x="435.30" y="529.41" width="15.50" height="9.20" fill="#eeeef1"/>
<text transform="translate(443.05,537.11) scale(0.94,1)" text-anchor="middle" fill="#111" stroke="#111" stroke-width="0.1" font-size="7.45">26</text>
<rect x="452.20" y="529.41" width="20.50" height="9.20" fill="#eeeef1"/>
<text transform="translate(462.45,537.11) scale(0.94,1)" text-anchor="middle" fill="#111" stroke="#111" stroke-width="0.1" font-size="7.45">13.76</text>
<rect x="474.10" y="529.41" width="37.40" height="9.20" fill="#eeeef1"/>
<text transform="translate(492.80,537.11) scale(0.94,1)" text-anchor="middle" fill="#111" stroke="#111" stroke-width="0.1" font-size="7.45">32.80</text>
<rect x="319.70" y="540.02" width="114.20" height="9.20" fill="#d3d3d9"/>
<text transform="translate(376.80,547.72) scale(0.94,1)" text-anchor="middle" fill="#111" stroke="#111" stroke-width="0.1" font-size="7.45">DNA Repair</text>
<rect x="435.30" y="540.02" width="15.50" height="9.20" fill="#d3d3d9"/>
<text transform="translate(443.05,547.72) scale(0.94,1)" text-anchor="middle" fill="#111" stroke="#111" stroke-width="0.1" font-size="7.45">22</text>
<rect x="452.20" y="540.02" width="20.50" height="9.20" fill="#d3d3d9"/>
<text transform="translate(462.45,547.72) scale(0.94,1)" text-anchor="middle" fill="#111" stroke="#111" stroke-width="0.1" font-size="7.45">11.64</text>
<rect x="474.10" y="540.02" width="37.40" height="9.20" fill="#d3d3d9"/>
<text transform="translate(492.80,547.72) scale(0.94,1)" text-anchor="middle" fill="#111" stroke="#111" stroke-width="0.1" font-size="7.45">44.44</text>
<rect x="319.70" y="550.63" width="114.20" height="9.20" fill="#eeeef1"/>
<text transform="translate(376.80,558.33) scale(0.94,1)" text-anchor="middle" fill="#111" stroke="#111" stroke-width="0.1" font-size="7.45">Signal Transduction</text>
<rect x="435.30" y="550.63" width="15.50" height="9.20" fill="#eeeef1"/>
<text transform="translate(443.05,558.33) scale(0.94,1)" text-anchor="middle" fill="#111" stroke="#111" stroke-width="0.1" font-size="7.45">22</text>
<rect x="452.20" y="550.63" width="20.50" height="9.20" fill="#eeeef1"/>
<text transform="translate(462.45,558.33) scale(0.94,1)" text-anchor="middle" fill="#111" stroke="#111" stroke-width="0.1" font-size="7.45">11.64</text>
<rect x="474.10" y="550.63" width="37.40" height="9.20" fill="#eeeef1"/>
<text transform="translate(492.80,558.33) scale(0.94,1)" text-anchor="middle" fill="#111" stroke="#111" stroke-width="0.1" font-size="7.45">56.08</text>
<rect x="319.70" y="561.24" width="114.20" height="9.20" fill="#d3d3d9"/>
<text transform="translate(376.80,568.94) scale(0.94,1)" text-anchor="middle" fill="#111" stroke="#111" stroke-width="0.1" font-size="7.45">Metabolism of proteins</text>
<rect x="435.30" y="561.24" width="15.50" height="9.20" fill="#d3d3d9"/>
<text transform="translate(443.05,568.94) scale(0.94,1)" text-anchor="middle" fill="#111" stroke="#111" stroke-width="0.1" font-size="7.45">13</text>
<rect x="452.20" y="561.24" width="20.50" height="9.20" fill="#d3d3d9"/>
<text transform="translate(462.45,568.94) scale(0.94,1)" text-anchor="middle" fill="#111" stroke="#111" stroke-width="0.1" font-size="7.45">6.88</text>
<rect x="474.10" y="561.24" width="37.40" height="9.20" fill="#d3d3d9"/>
<text transform="translate(492.80,568.94) scale(0.94,1)" text-anchor="middle" fill="#111" stroke="#111" stroke-width="0.1" font-size="7.45">62.96</text>
<rect x="319.70" y="571.85" width="114.20" height="9.20" fill="#eeeef1"/>
<text transform="translate(376.80,579.55) scale(0.94,1)" text-anchor="middle" fill="#111" stroke="#111" stroke-width="0.1" font-size="7.45">Disease</text>
<rect x="435.30" y="571.85" width="15.50" height="9.20" fill="#eeeef1"/>
<text transform="translate(443.05,579.55) scale(0.94,1)" text-anchor="middle" fill="#111" stroke="#111" stroke-width="0.1" font-size="7.45">12</text>
<rect x="452.20" y="571.85" width="20.50" height="9.20" fill="#eeeef1"/>
<text transform="translate(462.45,579.55) scale(0.94,1)" text-anchor="middle" fill="#111" stroke="#111" stroke-width="0.1" font-size="7.45">6.35</text>
<rect x="474.10" y="571.85" width="37.40" height="9.20" fill="#eeeef1"/>
<text transform="translate(492.80,579.55) scale(0.94,1)" text-anchor="middle" fill="#111" stroke="#111" stroke-width="0.1" font-size="7.45">69.31</text>
<rect x="319.70" y="582.46" width="114.20" height="9.20" fill="#d3d3d9"/>
<text transform="translate(376.80,590.16) scale(0.94,1)" text-anchor="middle" fill="#111" stroke="#111" stroke-width="0.1" font-size="7.45">Gene expression (Transcription)</text>
<rect x="435.30" y="582.46" width="15.50" height="9.20" fill="#d3d3d9"/>
<text transform="translate(443.05,590.16) scale(0.94,1)" text-anchor="middle" fill="#111" stroke="#111" stroke-width="0.1" font-size="7.45">11</text>
<rect x="452.20" y="582.46" width="20.50" height="9.20" fill="#d3d3d9"/>
<text transform="translate(462.45,590.16) scale(0.94,1)" text-anchor="middle" fill="#111" stroke="#111" stroke-width="0.1" font-size="7.45">5.82</text>
<rect x="474.10" y="582.46" width="37.40" height="9.20" fill="#d3d3d9"/>
<text transform="translate(492.80,590.16) scale(0.94,1)" text-anchor="middle" fill="#111" stroke="#111" stroke-width="0.1" font-size="7.45">75.13</text>
<rect x="319.70" y="593.07" width="114.20" height="9.20" fill="#eeeef1"/>
<text transform="translate(376.80,600.77) scale(0.94,1)" text-anchor="middle" fill="#111" stroke="#111" stroke-width="0.1" font-size="7.45">Metabolism</text>
<rect x="435.30" y="593.07" width="15.50" height="9.20" fill="#eeeef1"/>
<text transform="translate(443.05,600.77) scale(0.94,1)" text-anchor="middle" fill="#111" stroke="#111" stroke-width="0.1" font-size="7.45">11</text>
<rect x="452.20" y="593.07" width="20.50" height="9.20" fill="#eeeef1"/>
<text transform="translate(462.45,600.77) scale(0.94,1)" text-anchor="middle" fill="#111" stroke="#111" stroke-width="0.1" font-size="7.45">5.82</text>
<rect x="474.10" y="593.07" width="37.40" height="9.20" fill="#eeeef1"/>
<text transform="translate(492.80,600.77) scale(0.94,1)" text-anchor="middle" fill="#111" stroke="#111" stroke-width="0.1" font-size="7.45">80.95</text>
<rect x="319.70" y="603.68" width="114.20" height="9.20" fill="#d3d3d9"/>
<text transform="translate(376.80,611.38) scale(0.94,1)" text-anchor="middle" fill="#111" stroke="#111" stroke-width="0.1" font-size="7.45">Metabolism of RNA</text>
<rect x="435.30" y="603.68" width="15.50" height="9.20" fill="#d3d3d9"/>
<text transform="translate(443.05,611.38) scale(0.94,1)" text-anchor="middle" fill="#111" stroke="#111" stroke-width="0.1" font-size="7.45">9</text>
<rect x="452.20" y="603.68" width="20.50" height="9.20" fill="#d3d3d9"/>
<text transform="translate(462.45,611.38) scale(0.94,1)" text-anchor="middle" fill="#111" stroke="#111" stroke-width="0.1" font-size="7.45">4.76</text>
<rect x="474.10" y="603.68" width="37.40" height="9.20" fill="#d3d3d9"/>
<text transform="translate(492.80,611.38) scale(0.94,1)" text-anchor="middle" fill="#111" stroke="#111" stroke-width="0.1" font-size="7.45">85.71</text>
<rect x="319.70" y="614.29" width="114.20" height="9.20" fill="#eeeef1"/>
<text transform="translate(376.80,621.99) scale(0.94,1)" text-anchor="middle" fill="#111" stroke="#111" stroke-width="0.1" font-size="7.45">Developmental Biology</text>
<rect x="435.30" y="614.29" width="15.50" height="9.20" fill="#eeeef1"/>
<text transform="translate(443.05,621.99) scale(0.94,1)" text-anchor="middle" fill="#111" stroke="#111" stroke-width="0.1" font-size="7.45">8</text>
<rect x="452.20" y="614.29" width="20.50" height="9.20" fill="#eeeef1"/>
<text transform="translate(462.45,621.99) scale(0.94,1)" text-anchor="middle" fill="#111" stroke="#111" stroke-width="0.1" font-size="7.45">4.23</text>
<rect x="474.10" y="614.29" width="37.40" height="9.20" fill="#eeeef1"/>
<text transform="translate(492.80,621.99) scale(0.94,1)" text-anchor="middle" fill="#111" stroke="#111" stroke-width="0.1" font-size="7.45">89.95</text>
<rect x="319.70" y="624.90" width="114.20" height="9.20" fill="#d3d3d9"/>
<text transform="translate(376.80,632.60) scale(0.94,1)" text-anchor="middle" fill="#111" stroke="#111" stroke-width="0.1" font-size="7.45">DNA Replication</text>
<rect x="435.30" y="624.90" width="15.50" height="9.20" fill="#d3d3d9"/>
<text transform="translate(443.05,632.60) scale(0.94,1)" text-anchor="middle" fill="#111" stroke="#111" stroke-width="0.1" font-size="7.45">4</text>
<rect x="452.20" y="624.90" width="20.50" height="9.20" fill="#d3d3d9"/>
<text transform="translate(462.45,632.60) scale(0.94,1)" text-anchor="middle" fill="#111" stroke="#111" stroke-width="0.1" font-size="7.45">2.12</text>
<rect x="474.10" y="624.90" width="37.40" height="9.20" fill="#d3d3d9"/>
<text transform="translate(492.80,632.60) scale(0.94,1)" text-anchor="middle" fill="#111" stroke="#111" stroke-width="0.1" font-size="7.45">92.06</text>
<rect x="319.70" y="635.51" width="114.20" height="9.20" fill="#eeeef1"/>
<text transform="translate(376.80,643.21) scale(0.94,1)" text-anchor="middle" fill="#111" stroke="#111" stroke-width="0.1" font-size="7.45">Cellular responses to external stimuli</text>
<rect x="435.30" y="635.51" width="15.50" height="9.20" fill="#eeeef1"/>
<text transform="translate(443.05,643.21) scale(0.94,1)" text-anchor="middle" fill="#111" stroke="#111" stroke-width="0.1" font-size="7.45">3</text>
<rect x="452.20" y="635.51" width="20.50" height="9.20" fill="#eeeef1"/>
<text transform="translate(462.45,643.21) scale(0.94,1)" text-anchor="middle" fill="#111" stroke="#111" stroke-width="0.1" font-size="7.45">1.59</text>
<rect x="474.10" y="635.51" width="37.40" height="9.20" fill="#eeeef1"/>
<text transform="translate(492.80,643.21) scale(0.94,1)" text-anchor="middle" fill="#111" stroke="#111" stroke-width="0.1" font-size="7.45">93.65</text>
<rect x="319.70" y="646.12" width="114.20" height="9.20" fill="#d3d3d9"/>
<text transform="translate(376.80,653.82) scale(0.94,1)" text-anchor="middle" fill="#111" stroke="#111" stroke-width="0.1" font-size="7.45">Hemostasis</text>
<rect x="435.30" y="646.12" width="15.50" height="9.20" fill="#d3d3d9"/>
<text transform="translate(443.05,653.82) scale(0.94,1)" text-anchor="middle" fill="#111" stroke="#111" stroke-width="0.1" font-size="7.45">3</text>
<rect x="452.20" y="646.12" width="20.50" height="9.20" fill="#d3d3d9"/>
<text transform="translate(462.45,653.82) scale(0.94,1)" text-anchor="middle" fill="#111" stroke="#111" stroke-width="0.1" font-size="7.45">1.59</text>
<rect x="474.10" y="646.12" width="37.40" height="9.20" fill="#d3d3d9"/>
<text transform="translate(492.80,653.82) scale(0.94,1)" text-anchor="middle" fill="#111" stroke="#111" stroke-width="0.1" font-size="7.45">95.24</text>
<rect x="319.70" y="656.73" width="114.20" height="9.20" fill="#eeeef1"/>
<text transform="translate(376.80,664.43) scale(0.94,1)" text-anchor="middle" fill="#111" stroke="#111" stroke-width="0.1" font-size="7.45">Programmed Cell Death</text>
<rect x="435.30" y="656.73" width="15.50" height="9.20" fill="#eeeef1"/>
<text transform="translate(443.05,664.43) scale(0.94,1)" text-anchor="middle" fill="#111" stroke="#111" stroke-width="0.1" font-size="7.45">3</text>
<rect x="452.20" y="656.73" width="20.50" height="9.20" fill="#eeeef1"/>
<text transform="translate(462.45,664.43) scale(0.94,1)" text-anchor="middle" fill="#111" stroke="#111" stroke-width="0.1" font-size="7.45">1.59</text>
<rect x="474.10" y="656.73" width="37.40" height="9.20" fill="#eeeef1"/>
<text transform="translate(492.80,664.43) scale(0.94,1)" text-anchor="middle" fill="#111" stroke="#111" stroke-width="0.1" font-size="7.45">96.83</text>
<rect x="319.70" y="667.34" width="114.20" height="9.20" fill="#d3d3d9"/>
<text transform="translate(376.80,675.04) scale(0.94,1)" text-anchor="middle" fill="#111" stroke="#111" stroke-width="0.1" font-size="7.45">Muscle contraction</text>
<rect x="435.30" y="667.34" width="15.50" height="9.20" fill="#d3d3d9"/>
<text transform="translate(443.05,675.04) scale(0.94,1)" text-anchor="middle" fill="#111" stroke="#111" stroke-width="0.1" font-size="7.45">1</text>
<rect x="452.20" y="667.34" width="20.50" height="9.20" fill="#d3d3d9"/>
<text transform="translate(462.45,675.04) scale(0.94,1)" text-anchor="middle" fill="#111" stroke="#111" stroke-width="0.1" font-size="7.45">0.53</text>
<rect x="474.10" y="667.34" width="37.40" height="9.20" fill="#d3d3d9"/>
<text transform="translate(492.80,675.04) scale(0.94,1)" text-anchor="middle" fill="#111" stroke="#111" stroke-width="0.1" font-size="7.45">97.35</text>
<rect x="0" y="0" width="520" height="1.2" fill="#000"/>
<rect x="0" y="0" width="1.1" height="688" fill="#000"/>
<rect x="518.5" y="0" width="1.5" height="688" fill="#000"/>
<rect x="0" y="686.5" width="520" height="1.5" fill="#000"/>
</svg>
</body></html>
